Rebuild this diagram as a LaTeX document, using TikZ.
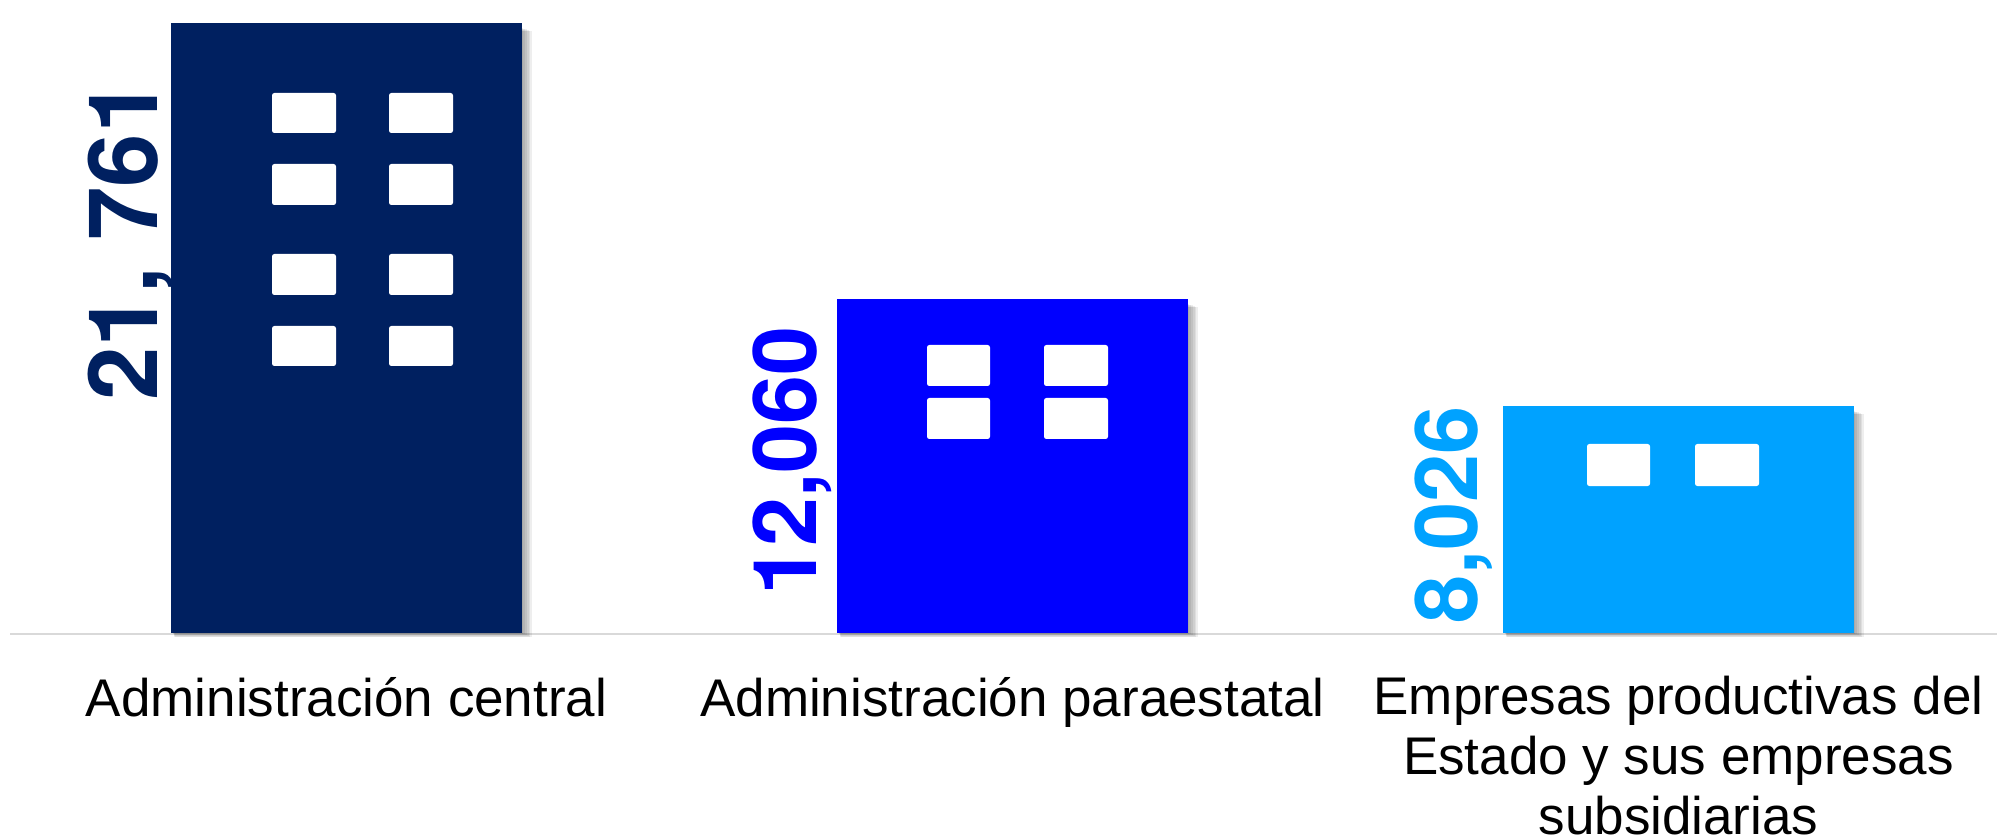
\documentclass[tikz,border=0pt]{standalone}
\usepackage{fontspec}
\setmainfont{Liberation Sans}
\newfontfamily\numfont{TeX Gyre Heros}
\definecolor{cnavy}{HTML}{002060}
\definecolor{cblue}{HTML}{0000FF}
\definecolor{clight}{HTML}{00A2FF}
\definecolor{caxis}{HTML}{D9D9D9}
\tikzset{
  win/.style={fill=white, rounded corners=1.2pt},
  numlab/.style={rotate=90, anchor=base west, inner sep=0pt},
  catlab/.style={font=\fontsize{26.5pt}{30pt}\selectfont, align=center, inner sep=0pt, anchor=base, text=black},
  shadowlayer/.style={fill=black, opacity=0.065}
}
\newcommand{\barshadow}[4]{%
  \foreach \k in {1,...,7}{%
    \fill[shadowlayer] (#1+1+\k*0.4, #2+4+\k*0.6) rectangle (#3-2+\k*1.7, #4-1+\k*0.75);
  }%
}
\begin{document}
\begin{tikzpicture}[x=0.5pt, y=-0.5pt]
\useasboundingbox (0,0) rectangle (1997,839);
% axis line
\draw[caxis, line width=1pt] (10,634) -- (1997,634);
% shadows
\barshadow{171}{23}{522}{633}
\barshadow{837}{299}{1188}{633}
\barshadow{1503}{406}{1854}{633}
% bars
\fill[cnavy] (171,23) rectangle (522,633);
\fill[cblue] (837,299) rectangle (1188,633);
\fill[clight] (1503,406) rectangle (1854,633);
% windows bar 1
\foreach \yy/\yb in {93/133,164/205,254/295,326/366}{
  \fill[win] (272,\yy) rectangle (336,\yb);
  \fill[win] (389,\yy) rectangle (453,\yb);
}
% windows bar 2
\foreach \yy/\yb in {345/386,398/439}{
  \fill[win] (927,\yy) rectangle (990,\yb);
  \fill[win] (1044,\yy) rectangle (1108,\yb);
}
% windows bar 3
\fill[win] (1587,444) rectangle (1650,486);
\fill[win] (1695,444) rectangle (1759,486);
% value labels
\node[numlab, text=cnavy, font=\numfont\bfseries\fontsize{48pt}{50pt}\selectfont] (v1) at (157,401) {21, 761};
\node[numlab, text=cblue, font=\numfont\bfseries\fontsize{44pt}{46pt}\selectfont] (v2) at (816,596) {12,060};
\node[numlab, text=clight, font=\numfont\bfseries\fontsize{43.3pt}{45pt}\selectfont] (v3) at (1477,623.5) {8,026};
% category labels
\node[catlab] (c1) at (346.5,716) {Administración central};
\node[catlab] (c2) at (1012.5,716) {Administración paraestatal};
\node[catlab] (c3) at (1678.5,834) {Empresas productivas del\\Estado y sus empresas\\subsidiarias};
\end{tikzpicture}
\end{document}
